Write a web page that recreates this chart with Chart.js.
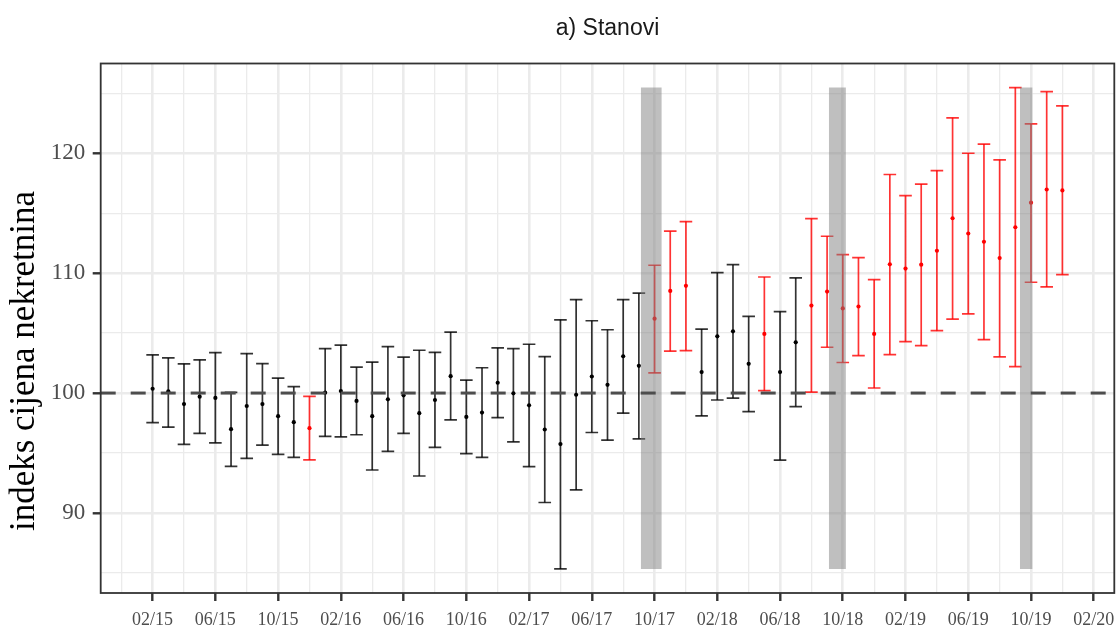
<!DOCTYPE html>
<html>
<head>
<meta charset="utf-8">
<title>a) Stanovi</title>
<script src="https://cdn.jsdelivr.net/npm/chart.js@4.4.1/dist/chart.umd.min.js"></script>
<style>
    html, body { margin: 0; padding: 0; background: #ffffff; }
    #chartBox { width: 1117px; height: 628px; position: relative; }
</style>
</head>
<body>
<div id="chartBox"><canvas id="stanoviChart"></canvas></div>
<script>
// Global chart variable
let stanoviChart = null;

const chartTitle = 'a) Stanovi';
const yTitle = 'indeks cijena nekretnina';

// Monthly estimates, Feb 2015 .. Dec 2019 (month index 0 = 02/15)
const estimate = [
    100.36, 100.14, 99.08, 99.70, 99.59, 96.99, 98.92, 99.08, 98.07, 97.57,
    97.07, 100.03, 100.17, 99.34, 98.07, 99.48, 99.81, 98.32, 99.42, 101.41,
    98.01, 98.37, 100.86, 99.98, 98.98, 96.96, 95.74, 99.86, 101.38, 100.69,
    103.07, 102.27, 106.20, 108.52, 108.94, 101.75, 104.73, 105.15, 102.44, 104.93,
    101.75, 104.23, 107.30, 108.46, 107.06, 107.22, 104.93, 110.74, 110.38, 110.71,
    111.87, 114.58, 113.31, 112.62, 111.26, 113.83, 115.88, 116.98, 116.90
];
// Lower bound of the interval
const lower = [
    97.54, 97.15, 95.72, 96.63, 95.85, 93.89, 94.55, 95.66, 94.89, 94.64,
    94.42, 96.38, 96.35, 96.52, 93.58, 95.13, 96.63, 93.08, 95.47, 97.76,
    94.94, 94.63, 97.95, 95.93, 93.86, 90.87, 85.33, 91.92, 96.71, 96.07,
    98.32, 96.18, 101.69, 103.49, 103.54, 98.09, 99.42, 99.58, 98.45, 100.20,
    94.41, 98.87, 100.08, 103.82, 102.55, 103.13, 100.42, 103.21, 104.29, 103.96,
    105.20, 106.17, 106.61, 104.45, 103.02, 102.21, 109.24, 108.85, 109.87
];
// Upper bound of the interval
const upper = [
    103.18, 102.93, 102.44, 102.77, 103.38, 100.05, 103.29, 102.46, 101.25, 100.53,
    99.73, 103.71, 103.99, 102.16, 102.58, 103.88, 102.99, 103.57, 103.40, 105.09,
    101.08, 102.11, 103.76, 103.71, 104.07, 103.04, 106.11, 107.80, 106.03, 105.28,
    107.80, 108.33, 110.66, 113.50, 114.30, 105.34, 110.04, 110.71, 106.39, 109.68,
    106.80, 109.60, 114.55, 113.08, 111.54, 111.29, 109.46, 118.23, 116.46, 117.43,
    118.56, 122.96, 120.00, 120.77, 119.45, 125.48, 122.45, 125.14, 123.96
];

// x-axis tick labels (every 4 months)
const tickMonths = [0, 4, 8, 12, 16, 20, 24, 28, 32, 36, 40, 44, 48, 52, 56, 60];
const tickLabels = ['02/15', '06/15', '10/15', '02/16', '06/16', '10/16', '02/17', '06/17',
                    '10/17', '02/18', '06/18', '10/18', '02/19', '06/19', '10/19', '02/20'];
// y-axis labelled ticks
const yTicks = [90, 100, 110, 120];

// Shaded periods (in month index)
const shadeFrom = [31.12, 43.11, 55.29];
const shadeTo = [32.46, 44.20, 56.10];

const referenceLevel = 100;

const GRID = 'rgb(235,235,235)';
const INK = '#333333';

document.addEventListener("DOMContentLoaded", function () {
    drawStanoviChart();
});

// draws y title + panel border
const panelPlugin = {
    id: 'panelPlugin',
    afterDraw(chart) {
        const ctx = chart.ctx;
        const a = chart.chartArea;
        ctx.save();
        ctx.strokeStyle = INK;
        ctx.lineWidth = 1.8;
        ctx.strokeRect(a.left, a.top, a.right - a.left, a.bottom - a.top);

        ctx.translate(33.5, 361);
        ctx.rotate(-Math.PI / 2);
        ctx.font = '35px "Liberation Serif"';
        ctx.fillStyle = '#000000';
        ctx.textAlign = 'center';
        ctx.textBaseline = 'alphabetic';
        ctx.fillText(yTitle, 0, 0);
        ctx.restore();
    }
};

function drawStanoviChart() {
    if (stanoviChart !== null) {
        stanoviChart.destroy();
    }

    // significant = interval does not contain 100
    const isRed = estimate.map((v, i) => lower[i] > referenceLevel || upper[i] < referenceLevel);

    const whiskBlack = [], whiskRed = [];
    const capBlack = [], capRed = [];
    const ptBlack = [], ptRed = [];
    estimate.forEach((v, i) => {
        const w = isRed[i] ? whiskRed : whiskBlack;
        const c = isRed[i] ? capRed : capBlack;
        const p = isRed[i] ? ptRed : ptBlack;
        w.push({ x: i, y: lower[i] }, { x: i, y: upper[i] }, { x: i, y: null });
        c.push({ x: i, y: lower[i] }, { x: i, y: upper[i] });
        p.push({ x: i, y: v });
    });

    const yMin = Math.min(...lower);
    const yMax = Math.max(...upper);
    const yPad = (yMax - yMin) * 0.05;
    const xMin = -3.31, xMax = 61.31;

    // gray shaded periods
    const shadeSets = shadeFrom.map((f, k) => ({
        type: 'line',
        data: [{ x: f, y: yMax }, { x: shadeTo[k], y: yMax }],
        borderWidth: 0,
        pointRadius: 0,
        backgroundColor: 'rgba(127,127,127,0.5)',
        fill: { value: yMin },
        order: 1
    }));

    const ctx = document.getElementById('stanoviChart').getContext('2d');

    stanoviChart = new Chart(ctx, {
        type: 'scatter',
        data: {
            datasets: [
                { type: 'line', data: whiskBlack, borderColor: 'rgba(0,0,0,0.8)', borderWidth: 1.7, pointRadius: 0, spanGaps: false, order: 5 },
                { type: 'line', data: whiskRed, borderColor: 'rgba(255,0,0,0.8)', borderWidth: 1.7, pointRadius: 0, spanGaps: false, order: 5 },
                { data: capBlack, pointStyle: 'line', pointRadius: 6.3, borderColor: 'rgba(0,0,0,0.8)', borderWidth: 1.7, order: 4 },
                { data: capRed, pointStyle: 'line', pointRadius: 6.3, borderColor: 'rgba(255,0,0,0.8)', borderWidth: 1.7, order: 4 },
                { data: ptBlack, pointRadius: 2.1, backgroundColor: '#000000', borderWidth: 0, order: 3 },
                { data: ptRed, pointRadius: 2.1, backgroundColor: '#ff0000', borderWidth: 0, order: 3 },
                ...shadeSets,
                {
                    type: 'line',
                    data: [{ x: xMin, y: referenceLevel }, { x: xMax, y: referenceLevel }],
                    borderColor: '#4d4d4d',
                    borderWidth: 3,
                    borderDash: [15, 15],
                    pointRadius: 0,
                    order: 0
                }
            ]
        },
        options: {
            responsive: true,
            maintainAspectRatio: false,
            animation: false,
            events: [],
            layout: { autoPadding: false, padding: { left: 0, right: 2.7, top: 0, bottom: 0 } },
            plugins: {
                legend: { display: false },
                tooltip: { enabled: false },
                title: {
                    display: true,
                    text: chartTitle,
                    fullSize: false,
                    color: '#1a1a1a',
                    font: { family: 'Liberation Sans', size: 23, weight: 'normal' },
                    padding: { top: 15, bottom: 20.9 }
                }
            },
            scales: {
                x: {
                    type: 'linear',
                    position: 'bottom',
                    min: xMin,
                    max: xMax,
                    afterBuildTicks: scale => {
                        const t = [];
                        for (let m = -2; m <= 60; m += 2) t.push({ value: m });
                        scale.ticks = t;
                    },
                    afterFit: scale => {
                        scale.height = 35;
                        scale.paddingLeft = 0;
                        scale.paddingRight = 0;
                    },
                    border: { display: false },
                    grid: {
                        color: GRID,
                        lineWidth: c => (tickMonths.includes(c.tick.value) ? 2.6 : 1.3),
                        tickColor: c => (tickMonths.includes(c.tick.value) ? INK : 'rgba(0,0,0,0)'),
                        tickWidth: 2.4,
                        tickLength: 8
                    },
                    ticks: {
                        autoSkip: false,
                        maxRotation: 0,
                        padding: 8,
                        color: '#4d4d4d',
                        font: { family: 'Liberation Serif', size: 18 },
                        callback: v => {
                            const k = tickMonths.indexOf(v);
                            return k >= 0 ? tickLabels[k] : '';
                        }
                    }
                },
                y: {
                    type: 'linear',
                    min: yMin - yPad,
                    max: yMax + yPad,
                    afterBuildTicks: scale => {
                        const t = [];
                        for (let v = 85; v <= 125; v += 5) t.push({ value: v });
                        scale.ticks = t;
                    },
                    afterFit: scale => {
                        scale.width = 100.7;
                        scale.paddingTop = 0;
                        scale.paddingBottom = 0;
                    },
                    border: { display: false },
                    grid: {
                        color: GRID,
                        lineWidth: c => (yTicks.includes(c.tick.value) ? 2.6 : 1.3),
                        tickColor: c => (yTicks.includes(c.tick.value) ? INK : 'rgba(0,0,0,0)'),
                        tickWidth: 2.4,
                        tickLength: 8
                    },
                    ticks: {
                        autoSkip: false,
                        padding: 7.5,
                        color: '#4d4d4d',
                        font: { family: 'Liberation Serif', size: 23 },
                        callback: v => (yTicks.includes(v) ? String(v) : '')
                    }
                }
            }
        },
        plugins: [panelPlugin]
    });
}
</script>
</body>
</html>
